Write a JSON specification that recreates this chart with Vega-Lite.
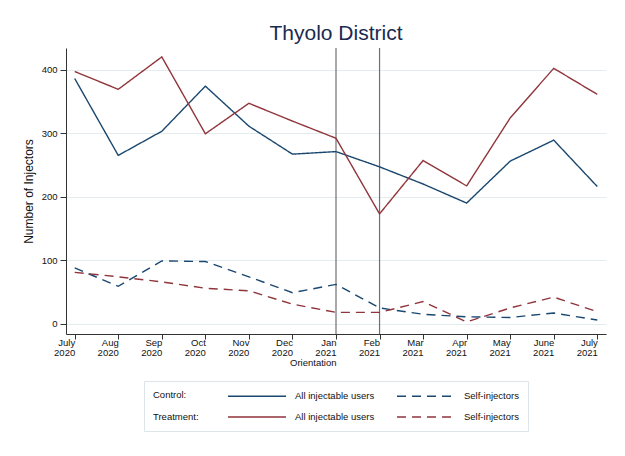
{
  "$schema": "https://vega.github.io/schema/vega-lite/v6.json",
  "width": 540,
  "height": 286,
  "padding": {"left": 22, "top": 23, "right": 15, "bottom": 10},
  "background": "white",
  "title": {"text": "Thyolo District", "fontSize": 21, "font": "Liberation Sans", "fontWeight": "normal", "color": "#1a2a4f", "offset": 3, "anchor": "middle"},
  "datasets": {
    "main": [
      {"month": "July 2020", "series": "Control: All injectable users", "value": 386},
      {"month": "Aug 2020", "series": "Control: All injectable users", "value": 265},
      {"month": "Sep 2020", "series": "Control: All injectable users", "value": 303},
      {"month": "Oct 2020", "series": "Control: All injectable users", "value": 374},
      {"month": "Nov 2020", "series": "Control: All injectable users", "value": 311},
      {"month": "Dec 2020", "series": "Control: All injectable users", "value": 267},
      {"month": "Jan 2021", "series": "Control: All injectable users", "value": 271},
      {"month": "Feb 2021", "series": "Control: All injectable users", "value": 247},
      {"month": "Mar 2021", "series": "Control: All injectable users", "value": 220},
      {"month": "Apr 2021", "series": "Control: All injectable users", "value": 190},
      {"month": "May 2021", "series": "Control: All injectable users", "value": 256},
      {"month": "June 2021", "series": "Control: All injectable users", "value": 289},
      {"month": "July 2021", "series": "Control: All injectable users", "value": 216},
      {"month": "July 2020", "series": "Control: Self-injectors", "value": 88},
      {"month": "Aug 2020", "series": "Control: Self-injectors", "value": 59},
      {"month": "Sep 2020", "series": "Control: Self-injectors", "value": 99},
      {"month": "Oct 2020", "series": "Control: Self-injectors", "value": 98},
      {"month": "Nov 2020", "series": "Control: Self-injectors", "value": 74},
      {"month": "Dec 2020", "series": "Control: Self-injectors", "value": 49},
      {"month": "Jan 2021", "series": "Control: Self-injectors", "value": 62},
      {"month": "Feb 2021", "series": "Control: Self-injectors", "value": 25},
      {"month": "Mar 2021", "series": "Control: Self-injectors", "value": 15},
      {"month": "Apr 2021", "series": "Control: Self-injectors", "value": 11},
      {"month": "May 2021", "series": "Control: Self-injectors", "value": 10},
      {"month": "June 2021", "series": "Control: Self-injectors", "value": 17},
      {"month": "July 2021", "series": "Control: Self-injectors", "value": 6},
      {"month": "July 2020", "series": "Treatment: All injectable users", "value": 397},
      {"month": "Aug 2020", "series": "Treatment: All injectable users", "value": 369},
      {"month": "Sep 2020", "series": "Treatment: All injectable users", "value": 420},
      {"month": "Oct 2020", "series": "Treatment: All injectable users", "value": 299},
      {"month": "Nov 2020", "series": "Treatment: All injectable users", "value": 347},
      {"month": "Dec 2020", "series": "Treatment: All injectable users", "value": 319},
      {"month": "Jan 2021", "series": "Treatment: All injectable users", "value": 292},
      {"month": "Feb 2021", "series": "Treatment: All injectable users", "value": 173},
      {"month": "Mar 2021", "series": "Treatment: All injectable users", "value": 257},
      {"month": "Apr 2021", "series": "Treatment: All injectable users", "value": 217},
      {"month": "May 2021", "series": "Treatment: All injectable users", "value": 324},
      {"month": "June 2021", "series": "Treatment: All injectable users", "value": 402},
      {"month": "July 2021", "series": "Treatment: All injectable users", "value": 361},
      {"month": "July 2020", "series": "Treatment: Self-injectors", "value": 81},
      {"month": "Aug 2020", "series": "Treatment: Self-injectors", "value": 74},
      {"month": "Sep 2020", "series": "Treatment: Self-injectors", "value": 66},
      {"month": "Oct 2020", "series": "Treatment: Self-injectors", "value": 56},
      {"month": "Nov 2020", "series": "Treatment: Self-injectors", "value": 52},
      {"month": "Dec 2020", "series": "Treatment: Self-injectors", "value": 31},
      {"month": "Jan 2021", "series": "Treatment: Self-injectors", "value": 18},
      {"month": "Feb 2021", "series": "Treatment: Self-injectors", "value": 18},
      {"month": "Mar 2021", "series": "Treatment: Self-injectors", "value": 35},
      {"month": "Apr 2021", "series": "Treatment: Self-injectors", "value": 3},
      {"month": "May 2021", "series": "Treatment: Self-injectors", "value": 25},
      {"month": "June 2021", "series": "Treatment: Self-injectors", "value": 42},
      {"month": "July 2021", "series": "Treatment: Self-injectors", "value": 19}
    ],
    "events": [
      {"month": "Jan 2021", "event": "Orientation"},
      {"month": "Feb 2021", "event": "Start"}
    ]
  },
  "layer": [
    {
      "data": {"name": "events"},
      "mark": {"type": "rule", "color": "#707070", "strokeWidth": 1.2},
      "encoding": {
        "x": {"field": "month", "type": "ordinal"}
      }
    },
    {
      "data": {"name": "main"},
      "mark": {"type": "line", "strokeWidth": 1.4},
      "encoding": {
        "x": {
          "field": "month", "type": "ordinal",
          "scale": {"type": "point", "padding": 0.2, "domain": ["July 2020", "Aug 2020", "Sep 2020", "Oct 2020", "Nov 2020", "Dec 2020", "Jan 2021", "Feb 2021", "Mar 2021", "Apr 2021", "May 2021", "June 2021", "July 2021"]},
          "axis": {
            "title": null, "labelAngle": 0, "labelOverlap": false,
            "labelExpr": "datum.value == 'Jan 2021' ? ['Jan', '2021', 'Orientation'] : split(datum.value, ' ')",
            "labelFontSize": 9.5, "labelLineHeight": 10, "tickSize": 5, "labelPadding": 3,
            "domainColor": "#333333", "tickColor": "#333333", "labelColor": "#111111", "grid": false
          }
        },
        "y": {
          "field": "value", "type": "quantitative",
          "scale": {"domain": [-16, 434], "nice": false, "zero": false},
          "axis": {
            "values": [0, 100, 200, 300, 400], "title": "Number of Injectors",
            "grid": true, "gridColor": "#e3ecef", "tickSize": 6, "labelPadding": 3, "titlePadding": 6,
            "titleFontSize": 12, "titleFontWeight": "normal", "titleColor": "#111111",
            "labelFontSize": 9.5, "labelColor": "#111111",
            "domainColor": "#333333", "tickColor": "#333333"
          }
        },
        "color": {
          "field": "series", "type": "nominal",
          "scale": {
            "domain": ["Control: All injectable users", "Control: Self-injectors", "Treatment: All injectable users", "Treatment: Self-injectors"],
            "range": ["#1a476f", "#1a476f", "#90353b", "#90353b"]
          },
          "legend": {
            "orient": "none", "legendX": 78, "legendY": 333,
            "direction": "horizontal", "columns": 2,
            "title": ["Control:", "Treatment:"], "titleOrient": "left", "titleAnchor": "start", "titleBaseline": "top",
            "titleFontSize": 9.5, "titleFontWeight": "normal", "titleLineHeight": 22, "titleColor": "#111111", "titlePadding": 29,
            "symbolType": "M-5.8,0H5.8", "symbolSize": 100, "symbolStrokeWidth": 1.5, "symbolOffset": 23,
            "labelOffset": 32, "labelFontSize": 9.5, "labelColor": "#111111",
            "columnPadding": 19, "rowPadding": 10, "padding": 9,
            "strokeColor": "#dce5e8", "fillColor": "white",
            "labelExpr": "replace(replace(datum.label, 'Control: ', ''), 'Treatment: ', '')"
          }
        },
        "strokeDash": {
          "field": "series", "type": "nominal",
          "scale": {
            "domain": ["Control: All injectable users", "Control: Self-injectors", "Treatment: All injectable users", "Treatment: Self-injectors"],
            "range": [[1, 0], [9, 6], [1, 0], [9, 6]]
          }
        }
      }
    }
  ],
  "config": {
    "font": "Liberation Sans",
    "view": {"stroke": null}
  }
}
